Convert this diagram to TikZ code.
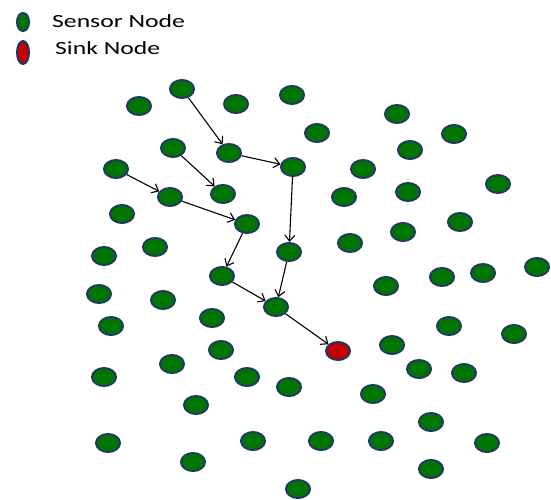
\documentclass[tikz,border=0pt]{standalone}
\usepackage{fontspec}
\newfontfamily\legendfont[FakeStretch=1.38]{Carlito}
\usepackage{xcolor}
\usetikzlibrary{arrows.meta,shapes.geometric}
\definecolor{nodegreen}{RGB}{0,118,0}
\definecolor{sinkred}{RGB}{196,0,0}
\definecolor{rim}{RGB}{31,56,100}
\tikzset{
  sensor/.style={ellipse, draw=rim, line width=2pt, fill=nodegreen,
                 inner sep=0pt, minimum width=24pt, minimum height=18pt},
  sink/.style={sensor, fill=sinkred},
  keyshape/.style={sensor, minimum width=12pt, minimum height=18pt},
  keytext/.style={anchor=base west, inner sep=0pt,
                  font=\legendfont\fontsize{18.6}{20}\selectfont},
  hop/.style={-{Straight Barb[length=6pt,width=10pt]}, line width=1.1pt},
}

\begin{document}
\begin{tikzpicture}[x=1pt, y=-1pt]
  \useasboundingbox (0,0) rectangle (551,500);
  % legend
  \node[keyshape] (keysensor) at (23,22) {};
  \node[keyshape, fill=sinkred, minimum height=23pt] (keysink) at (23,52.5) {};
  \node[keytext] (txtsensor) at (52,27.3) {Sensor Node};
  \node[keytext] (txtsink) at (55,54.3) {Sink Node};
  % other sensor nodes
  \foreach \px/\py [count=\k] in {139/106, 236/104, 292/95, 317/133, 397/114,
      454/134, 410/150, 363/169, 344/197, 408/192, 498/184, 460/222, 403/232,
      350/243, 442/277, 483/273, 537/267, 386/286, 122/214, 155/247, 104/256,
      99/294, 163/300, 212/318, 111/326, 221/350, 172/364, 104/377, 247/377,
      289/387, 196/405, 108/443, 253/441, 193/462, 298/489, 449/326, 514/334,
      392/345, 419/369, 464/373, 373/394, 431/422, 321/441, 381/441, 487/443,
      431/469}
    \node[sensor] (s\k) at (\px,\py) {};
  % nodes on the routes
  \node[sensor] (p1) at (182,89) {};
  \node[sensor] (p2) at (229,153) {};
  \node[sensor] (p3) at (293,167) {};
  \node[sensor] (p4) at (173,148) {};
  \node[sensor] (p5) at (223,194) {};
  \node[sensor] (p6) at (116,169) {};
  \node[sensor] (p7) at (170,197) {};
  \node[sensor] (p8) at (247,224) {};
  \node[sensor] (p9) at (222,276) {};
  \node[sensor] (p10) at (289,252) {};
  \node[sensor] (p11) at (276,307) {};
  \node[sink] (sink) at (338,351) {};
  % routes
  \draw[hop] (p1) -- (p2);
  \draw[hop] (p2) -- (p3);
  \draw[hop] (p4) -- (p5);
  \draw[hop] (p6) -- (p7);
  \draw[hop] (p7) -- (p8);
  \draw[hop] (p8) -- (p9);
  \draw[hop] (p3) -- (p10);
  \draw[hop] (p10) -- (p11);
  \draw[hop] (p9) -- (p11);
  \draw[hop] (p11) -- (sink);
\end{tikzpicture}
\end{document}
